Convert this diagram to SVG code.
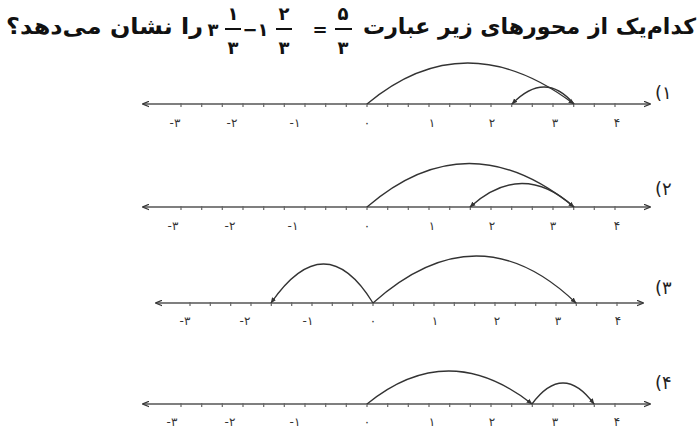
<svg xmlns="http://www.w3.org/2000/svg" width="699" height="446" viewBox="0 0 699 446">
<defs>
<marker id="ah" viewBox="0 0 10 10" refX="9" refY="5" markerWidth="7" markerHeight="7" markerUnits="userSpaceOnUse" orient="auto-start-reverse">
<path d="M0,1 L10,5 L0,9" fill="none" stroke="#333" stroke-width="1.8"/>
</marker>
<marker id="tip" viewBox="0 0 10 10" refX="9" refY="5" markerWidth="6" markerHeight="6" markerUnits="userSpaceOnUse" orient="auto">
<path d="M0,1 L10,5 L0,9 Z" fill="#333"/>
</marker>
</defs>
<style>
.t{font-family:"DejaVu Sans",sans-serif;font-weight:bold;fill:#111}
.axis{stroke:#555;stroke-width:1.6;fill:none}
.tick{stroke:#666;stroke-width:1.2}
.arc{stroke:#333;stroke-width:1.3;fill:none}
.lb{font-family:"DejaVu Sans",sans-serif;font-size:12px;fill:#333;text-anchor:middle}
.opt{font-family:"DejaVu Sans",sans-serif;font-size:18px;fill:#222}
.num{font-family:"DejaVu Sans",sans-serif;font-weight:bold;font-size:18px;fill:#111;text-anchor:middle}
.bar{stroke:#111;stroke-width:2}
</style>
<rect width="699" height="446" fill="#fff"/>

<g id="title">
<text class="t" x="696" y="34" font-size="22" text-anchor="end" textLength="333" lengthAdjust="spacingAndGlyphs">کدام‌یک از محورهای زیر عبارت</text>
<text class="num" x="343" y="20">۵</text>
<line class="bar" x1="335" y1="29" x2="352" y2="29"/>
<text class="num" x="343" y="54">۳</text>
<text class="num" x="320" y="36">=</text>
<text class="num" x="284" y="20">۲</text>
<line class="bar" x1="276" y1="29" x2="292" y2="29"/>
<text class="num" x="284" y="54">۳</text>
<text class="num" x="263" y="36">۱</text>
<text class="num" x="250" y="36">−</text>
<text class="num" x="233" y="20">۱</text>
<line class="bar" x1="225" y1="29" x2="241" y2="29"/>
<text class="num" x="233" y="54">۳</text>
<text class="num" x="213" y="36">۳</text>
<text class="t" x="203" y="34" font-size="22" text-anchor="end" textLength="197" lengthAdjust="spacingAndGlyphs">را نشان می‌دهد؟</text>
</g>

<g id="option1">
<text class="opt" x="655" y="99">(۱</text>
<line class="axis" x1="143" y1="104" x2="650" y2="104" marker-start="url(#ah)" marker-end="url(#ah)"/>
<path class="tick" d="M181,103v4M201.7,103v4M222.3,103v4M243,103v4M263.7,103v4M284.3,103v4M305,103v4M325.7,103v4M346.3,103v4M367,103v4M387.7,103v4M408.3,103v4M429,103v4M449.7,103v4M470.3,103v4M491,103v4M511.7,103v4M532.3,103v4M553,103v4M573.7,103v4M594.3,103v4M615,103v4"/>
<text class="lb" x="175" y="127">-۳</text><text class="lb" x="232" y="127">-۲</text><text class="lb" x="295" y="127">-۱</text><text class="lb" x="367" y="127">۰</text><text class="lb" x="432" y="127">۱</text><text class="lb" x="492" y="127">۲</text><text class="lb" x="555" y="127">۳</text><text class="lb" x="617" y="127">۴</text>
</g>

<g id="option2">
<text class="opt" x="655" y="195">(۲</text>
<line class="axis" x1="143" y1="207" x2="650" y2="207" marker-start="url(#ah)" marker-end="url(#ah)"/>
<path class="tick" d="M181,206v4M201.7,206v4M222.3,206v4M243,206v4M263.7,206v4M284.3,206v4M305,206v4M325.7,206v4M346.3,206v4M367,206v4M387.7,206v4M408.3,206v4M429,206v4M449.7,206v4M470.3,206v4M491,206v4M511.7,206v4M532.3,206v4M553,206v4M573.7,206v4M594.3,206v4M615,206v4"/>
<text class="lb" x="173" y="230">-۳</text><text class="lb" x="230" y="230">-۲</text><text class="lb" x="293" y="230">-۱</text><text class="lb" x="367" y="230">۰</text><text class="lb" x="432" y="230">۱</text><text class="lb" x="492" y="230">۲</text><text class="lb" x="553" y="230">۳</text><text class="lb" x="617" y="230">۴</text>
</g>

<g id="option3">
<text class="opt" x="655" y="294">(۳</text>
<line class="axis" x1="156" y1="303" x2="643" y2="303" marker-start="url(#ah)" marker-end="url(#ah)"/>
<path class="tick" d="M190,302v4M210.3,302v4M230.7,302v4M251,302v4M271.3,302v4M291.7,302v4M312,302v4M332.3,302v4M352.7,302v4M373,302v4M393.3,302v4M413.7,302v4M434,302v4M454.3,302v4M474.7,302v4M495,302v4M515.3,302v4M535.7,302v4M556,302v4M576.3,302v4M596.7,302v4M617,302v4"/>
<text class="lb" x="185" y="325">-۳</text><text class="lb" x="245" y="325">-۲</text><text class="lb" x="308" y="325">-۱</text><text class="lb" x="373" y="325">۰</text><text class="lb" x="435" y="325">۱</text><text class="lb" x="497" y="325">۲</text><text class="lb" x="558" y="325">۳</text><text class="lb" x="618" y="325">۴</text>
</g>

<g id="option4">
<text class="opt" x="655" y="389">(۴</text>
<line class="axis" x1="143" y1="404" x2="650" y2="404" marker-start="url(#ah)" marker-end="url(#ah)"/>
<path class="tick" d="M181,403v4M201.7,403v4M222.3,403v4M243,403v4M263.7,403v4M284.3,403v4M305,403v4M325.7,403v4M346.3,403v4M367,403v4M387.7,403v4M408.3,403v4M429,403v4M449.7,403v4M470.3,403v4M491,403v4M511.7,403v4M532.3,403v4M553,403v4M573.7,403v4M594.3,403v4M615,403v4"/>
<text class="lb" x="172" y="426">-۳</text><text class="lb" x="230" y="426">-۲</text><text class="lb" x="295" y="426">-۱</text><text class="lb" x="367" y="426">۰</text><text class="lb" x="432" y="426">۱</text><text class="lb" x="492" y="426">۲</text><text class="lb" x="555" y="426">۳</text><text class="lb" x="617" y="426">۴</text>
</g>

<g id="connectors">
<path class="arc" d="M367,104 Q465,22 574,104" marker-end="url(#tip)"/>
<path class="arc" d="M574,104 Q545,70 512,104" marker-end="url(#tip)"/>
<path class="arc" d="M367,207 Q468,120 574,207" marker-end="url(#tip)"/>
<path class="arc" d="M574,207 Q522,160 470,207" marker-end="url(#tip)"/>
<path class="arc" d="M373,303 Q325,225 271,303" marker-end="url(#tip)"/>
<path class="arc" d="M373,303 Q478,209 576,303" marker-end="url(#tip)"/>
<path class="arc" d="M367,404 Q448,338 532,404" marker-end="url(#tip)"/>
<path class="arc" d="M532,404 Q563,362 594,404" marker-end="url(#tip)"/>
</g>
</svg>
